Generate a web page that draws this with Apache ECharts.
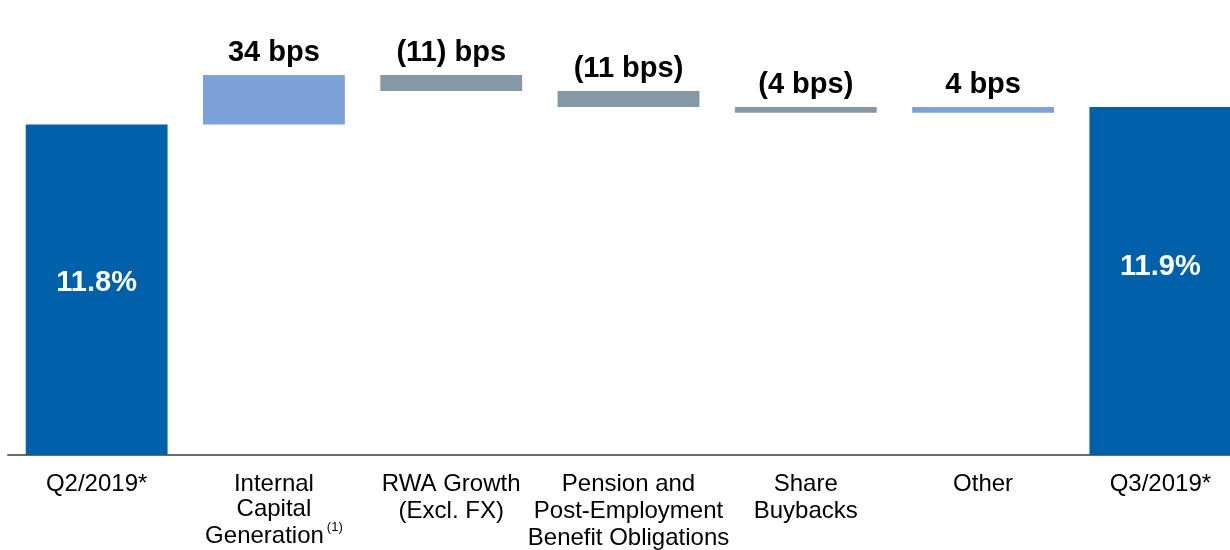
<!DOCTYPE html>
<html>
<head>
  <meta charset="utf-8" />
  <title>CET1 walk</title>
  <script src="https://cdn.jsdelivr.net/npm/echarts@6/dist/echarts.min.js"></script>
  <style>
    html, body {
      height: 100%;
      margin: 0;
      padding: 0;
      background: #fff;
    }

    #main {
      width: 1230px;
      height: 550px;
    }
  </style>
</head>
<body>
  <div id="main"></div>

  <script type="text/javascript">
    const categories = [
      'Q2/2019*',
      'Internal\nCapital\nGeneration',
      'RWA Growth\n(Excl. FX)',
      'Pension and\nPost-Employment\nBenefit Obligations',
      'Share\nBuybacks',
      'Other',
      'Q3/2019*'
    ];
    const footnotes = ['', '(1)', '', '', '', '', ''];

    const startValue = 11.8;                            // %
    const changes = [0.34, -0.11, -0.11, -0.04, 0.04];  // % points
    const endValue = 11.92;                             // %
    const valueLabels = ['11.8%', '34 bps', '(11) bps', '(11 bps)', '(4 bps)', '4 bps', '11.9%'];

    const totalColor = '#0060A9';
    const upColor = '#7EA1D9';
    const downColor = '#8598A6';
    const font = "'Liberation Sans', Arial, sans-serif";

    // build the waterfall: invisible base + visible step
    const baseData = ['-'];
    const stepData = [];
    let running = startValue;
    changes.forEach(c => {
      const next = +(running + c).toFixed(4);
      baseData.push(Math.min(running, next));
      running = next;
    });
    baseData.push('-');

    stepData.push({
      value: startValue,
      itemStyle: { color: totalColor },
      label: { position: 'inside', color: '#fff', offset: [0, -7] }
    });
    changes.forEach(c => {
      stepData.push({
        value: Math.abs(c),
        itemStyle: { color: c >= 0 ? upColor : downColor }
      });
    });
    stepData.push({
      value: endValue,
      itemStyle: { color: totalColor },
      label: { position: 'inside', color: '#fff', offset: [0, -14] }
    });

    // footnote marker sits raised after the last line
    function categoryLabel(val, idx) {
      if (!footnotes[idx]) return val;
      const lines = val.split('\n');
      const last = lines.pop();
      const prev = lines.pop();
      return lines.concat(['{tight|' + prev + '}', '{low|' + last + '}{sup|' + footnotes[idx] + '}']).join('\n');
    }

    const labelText = { fontFamily: font, fontSize: 24, color: '#000' };

    const myChart = echarts.init(document.getElementById('main'));

    const option = {
      animation: false,
      grid: {
        left: 8,
        width: 1241,
        top: 20,
        bottom: 95,
        containLabel: false,
        outerBoundsMode: 'none'
      },
      xAxis: {
        type: 'category',
        data: categories,
        axisTick: { show: false },
        axisLine: { lineStyle: { color: '#6a6a6a', width: 2 } },
        axisLabel: {
          interval: 0,
          margin: 16,
          color: '#000',
          fontFamily: font,
          fontSize: 24,
          lineHeight: 27,
          formatter: categoryLabel,
          rich: {
            tight: Object.assign({ lineHeight: 23 }, labelText),
            low: Object.assign({ lineHeight: 27, verticalAlign: 'bottom' }, labelText),
            sup: {
              fontFamily: font,
              fontSize: 13,
              lineHeight: 13,
              verticalAlign: 'top',
              color: '#000',
              padding: [0, 0, 18, 3]
            }
          }
        }
      },
      yAxis: {
        type: 'value',
        show: false,
        min: 9.52,
        max: 12.52
      },
      series: [
        {
          name: 'base',
          type: 'bar',
          stack: 'walk',
          barWidth: '80%',
          itemStyle: { color: 'transparent' },
          emphasis: { disabled: true },
          data: baseData
        },
        {
          name: 'step',
          type: 'bar',
          stack: 'walk',
          barWidth: '80%',
          label: {
            show: true,
            position: 'top',
            distance: 8,
            color: '#000',
            fontFamily: font,
            fontSize: 29,
            fontWeight: 'bold',
            formatter: p => valueLabels[p.dataIndex]
          },
          data: stepData
        }
      ]
    };

    myChart.setOption(option);
  </script>
</body>
</html>
